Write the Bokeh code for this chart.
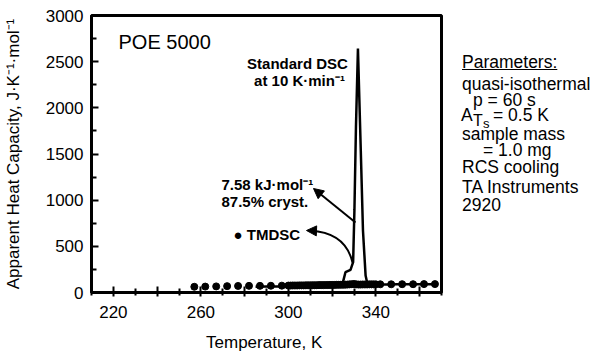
from bokeh.plotting import figure
from bokeh.layouts import row
from bokeh.models import Range1d, FixedTicker, Label, Arrow, NormalHead, Div
from bokeh.embed import file_html
from bokeh.resources import INLINE

# ---------------- data ----------------
# TMDSC quasi-isothermal points (temperature in K, apparent heat capacity J K-1 mol-1)
tmdsc_T = [257, 262, 267, 272, 277, 282, 287, 292, 297,
           300, 301, 302, 303, 304, 305, 306, 307, 308, 309,
           310, 311, 312, 313, 314, 315, 316, 317, 318, 319,
           320, 321, 322, 323, 324, 325, 326, 327, 328, 329,
           330, 331, 332, 333, 334, 335, 336, 337, 338, 339, 340,
           342, 347, 352, 357, 362, 367]
tmdsc_Cp = [62, 64, 66, 69, 71, 72, 72, 73, 74,
            75, 75, 76, 76, 76, 77, 77, 77, 78, 78,
            78, 79, 79, 79, 80, 80, 80, 81, 81, 82,
            82, 82, 83, 83, 84, 84, 85, 86, 88, 90,
            92, 88, 86, 86, 87, 87, 87, 88, 88, 88, 88,
            89, 89, 90, 90, 91, 91]

# Standard DSC at 10 K/min
dsc_T = [285, 290, 295, 300, 305, 310, 315, 320, 324.6, 326.1, 328.4, 329.6,
         330.2, 330.9, 331.8, 333.1, 334.1, 335.3, 336.2, 340, 345, 350, 355, 360, 367]
dsc_Cp = [62, 64, 66, 68, 70, 72, 74, 76, 80, 220, 246, 328,
          900, 1800, 2643, 1538, 671, 184, 85, 86, 87, 88, 88, 89, 89]

x_major = [220, 240, 260, 280, 300, 320, 340, 360]
x_labels = {220: "220", 240: "", 260: "260", 280: "", 300: "300", 320: "", 340: "340", 360: ""}
x_minor = [210, 230, 250, 270, 290, 310, 330, 350, 370]
y_major = [0, 500, 1000, 1500, 2000, 2500, 3000]
y_minor = [250, 750, 1250, 1750, 2250, 2750]

param_lines = ["Parameters:", "quasi-isothermal", "p = 60 s", "A", "T", "s", "= 0.5 K",
               "sample  mass", "= 1.0 mg", "RCS cooling", "TA Instruments", "2920"]

FONT = "Liberation Sans"

# page-pixel -> data helpers for annotation placement
def dx(px):
    return 210 + (px - 91) * 160 / 350

def dy(py):
    return (292 - py) * 3000 / 277

p = figure(frame_width=350, frame_height=277,
           x_range=Range1d(210, 370), y_range=Range1d(0, 3000),
           output_backend="svg", toolbar_location=None,
           min_border_left=91, min_border_right=10,
           min_border_top=15, min_border_bottom=60)
p.xgrid.visible = False
p.ygrid.visible = False
p.outline_line_color = "black"
p.outline_line_width = 3
p.background_fill_color = "white"
p.border_fill_color = "white"

p.xaxis.ticker = FixedTicker(ticks=x_major, minor_ticks=x_minor)
p.xaxis.major_label_overrides = x_labels
p.yaxis.ticker = FixedTicker(ticks=y_major, minor_ticks=y_minor)

for ax in (p.xaxis[0], p.yaxis[0]):
    ax.axis_line_width = 3
    ax.axis_line_color = "black"
    ax.major_tick_line_width = 2
    ax.minor_tick_line_width = 2
    ax.major_tick_line_color = "black"
    ax.minor_tick_line_color = "black"
    ax.major_label_text_font = FONT
    ax.major_label_text_font_size = "17px"
    ax.major_label_text_color = "black"
    ax.axis_label_text_font = FONT
    ax.axis_label_text_font_size = "17px"
    ax.axis_label_text_font_style = "normal"
    ax.axis_label_text_color = "black"

p.xaxis.major_tick_in = 6
p.xaxis.major_tick_out = 4
p.xaxis.minor_tick_in = 4
p.xaxis.minor_tick_out = 3
p.xaxis.major_label_standoff = 9
p.xaxis.axis_label = "Temperature,  K"
p.xaxis.axis_label_standoff = 12

p.yaxis.major_tick_in = 7
p.yaxis.major_tick_out = 0
p.yaxis.minor_tick_in = 5
p.yaxis.minor_tick_out = 0
p.yaxis.major_label_standoff = 8
p.yaxis.axis_label = "Apparent Heat Capacity, J·K⁻¹·mol⁻¹"
p.yaxis.axis_label_standoff = 20

# series
p.line(dsc_T, dsc_Cp, line_color="black", line_width=2.5)
p.scatter(tmdsc_T, tmdsc_Cp, marker="circle", size=7,
          fill_color="black", line_color="black")

# arrows
p.add_layout(Arrow(end=NormalHead(size=10, fill_color="black", line_color="black"),
                   x_start=dx(355), y_start=dy(222), x_end=dx(313), y_end=dy(188),
                   line_width=2, line_color="black"))
p.quadratic(x0=dx(352), y0=dy(262), x1=dx(310), y1=dy(230.2),
            cx=dx(345), cy=dy(232), line_color="black", line_width=2)
p.add_layout(Arrow(end=NormalHead(size=10, fill_color="black", line_color="black"),
                   x_start=dx(314), y_start=dy(230.3), x_end=dx(306), y_end=dy(230),
                   line_width=2, line_color="black"))

def lab(text, px, py, size="15px", style="bold", align="left"):
    p.add_layout(Label(x=dx(px), y=dy(py), text=text, text_font=FONT,
                       text_font_size=size, text_font_style=style,
                       text_align=align, text_baseline="alphabetic",
                       text_color="black"))

lab("POE 5000", 118, 41, size="20px", style="normal")
lab("Standard DSC", 297, 63, align="center")
lab("at 10 K·min⁻¹", 299, 80, align="center")
lab("7.58 kJ·mol⁻¹", 221, 184)
lab("87.5% cryst.", 221, 201)
lab("● TMDSC", 233, 234)

# ---------------- parameters block (HTML beside the plot) ----------------
FIG_W = 91 + 350 + 10
DIV_LEFT = FIG_W   # page x where the Div starts
DIV_W = 142
Y_SHIFT = 3

LH = 0.85
# (page x, page baseline y, font px, underline)
param_pos = [(462, 65, 17.5, True), (462, 87, 17.5, False), (473, 103, 17.5, False),
             (461, 118, 17.5, False), (473, 123, 16, False), (483, 124.5, 13, False),
             (493, 118, 17.5, False), (462, 137, 17.5, False), (483, 153, 17.5, False),
             (462, 170, 17.5, False), (462, 190, 17.5, False), (462, 208, 17.5, False)]

spans = []
for txt, (px, base, fs, ul) in zip(param_lines, param_pos):
    top = base + Y_SHIFT - ((LH - 1.117) / 2 + 0.905) * fs
    deco = "text-decoration:underline;" if ul else ""
    spans.append(
        f'<span style="position:absolute;display:block;left:{px - DIV_LEFT}px;top:{top:.1f}px;'
        f'font-size:{fs}px;line-height:{LH};white-space:nowrap;{deco}">{txt}</span>')
html = (f'<div style="position:relative;width:{DIV_W}px;height:340px;margin:0;padding:0;'
        'font-family:\'Liberation Sans\',Arial,sans-serif;color:#000;">'
        + "".join(spans) + '</div>')
div = Div(text=html, width=DIV_W, height=340, margin=0)

layout = row(p, div)
open("out.html", "w").write(file_html(layout, INLINE))
